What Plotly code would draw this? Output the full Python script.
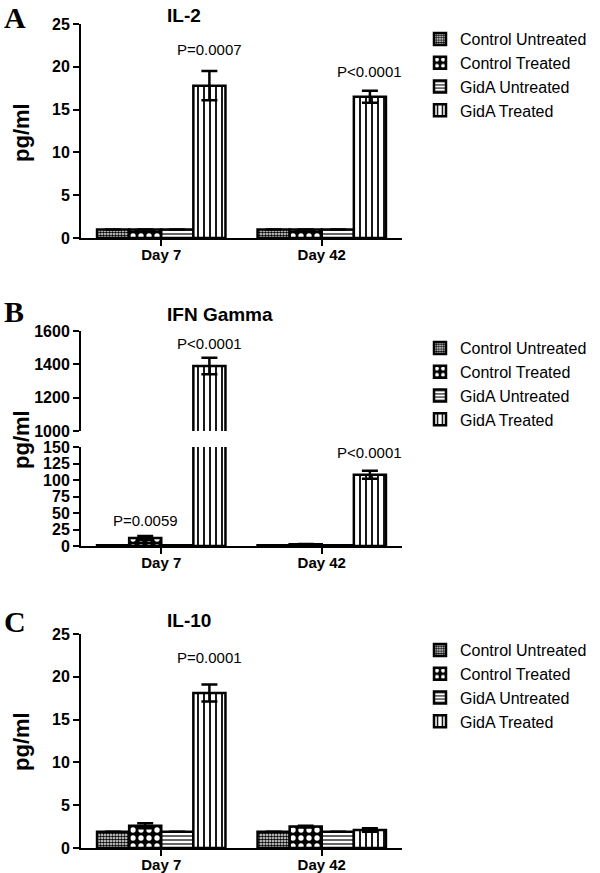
import plotly.graph_objects as go

W, H = 600, 873
days = ["Day 7", "Day 42"]
xpos = [0, 1]
series = ["Control Untreated", "Control Treated", "GidA Untreated", "GidA Treated"]

il2_vals = {"Control Untreated": [1.0, 1.0], "Control Treated": [1.0, 1.0],
            "GidA Untreated": [1.0, 1.0], "GidA Treated": [17.8, 16.5]}
il2_err = {"Control Untreated": [0, 0], "Control Treated": [0, 0],
           "GidA Untreated": [0, 0], "GidA Treated": [1.7, 0.7]}

ifn_vals = {"Control Untreated": [1.0, 1.0], "Control Treated": [12.0, 2.5],
            "GidA Untreated": [1.0, 1.0], "GidA Treated": [1390, 108]}
ifn_err = {"Control Untreated": [0, 0], "Control Treated": [3.0, 0.5],
           "GidA Untreated": [0, 0], "GidA Treated": [50, 6]}

il10_vals = {"Control Untreated": [1.9, 1.9], "Control Treated": [2.6, 2.5],
             "GidA Untreated": [1.9, 1.9], "GidA Treated": [18.1, 2.1]}
il10_err = {"Control Untreated": [0, 0], "Control Treated": [0.3, 0.1],
            "GidA Untreated": [0, 0], "GidA Treated": [1.0, 0.2]}

patterns = {
    "Control Untreated": dict(shape=".", size=3, solidity=0.6, fgcolor="black", bgcolor="white", fillmode="replace"),
    "Control Treated": dict(shape=".", size=8, solidity=0.35, fgcolor="white", bgcolor="black", fillmode="replace"),
    "GidA Untreated": dict(shape="-", size=4, solidity=0.3, fgcolor="black", bgcolor="white", fillmode="replace"),
    "GidA Treated": dict(shape="|", size=6, solidity=0.3, fgcolor="black", bgcolor="white", fillmode="replace"),
}

def py(px):
    return 1 - px / H

def px_(p):
    return p / W

fig = go.Figure()

panels = [
    ("x", "y", il2_vals, il2_err, "legend", True),
    ("x2", "y2", ifn_vals, ifn_err, "legend2", True),
    ("x3", "y3", ifn_vals, ifn_err, "legend2", False),
    ("x4", "y4", il10_vals, il10_err, "legend3", True),
]
for xa, ya, vals, errs, lg, sl in panels:
    for s in series:
        fig.add_trace(go.Bar(
            x=xpos, y=vals[s], name=s, xaxis=xa, yaxis=ya, legend=lg, showlegend=sl,
            marker=dict(color="white", pattern=patterns[s], line=dict(color="black", width=2.5)),
            error_y=dict(type="data", array=errs[s], visible=True, color="black", thickness=2.5, width=8),
            hoverinfo="skip",
        ))

tickfont = dict(family="Liberation Sans, Arial", size=16, color="black", weight="bold")
xdom = [px_(81), px_(402)]
common_y = dict(showline=True, linewidth=2, linecolor="black", ticks="outside", ticklen=6,
                tickwidth=2, tickcolor="black", tickfont=tickfont, showgrid=False, zeroline=False)
common_x = dict(range=[-0.5, 1.5], showline=True, linewidth=2, linecolor="black", ticks="outside",
                ticklen=6, tickwidth=2, tickcolor="black", tickvals=xpos, ticktext=days,
                tickfont=dict(tickfont, size=15), showgrid=False, zeroline=False)

fig.update_layout(
    width=W, height=H, margin=dict(l=0, r=0, t=0, b=0, autoexpand=False),
    plot_bgcolor="white", paper_bgcolor="white",
    barmode="group", bargap=0.2, bargroupgap=0,
    font=dict(family="Liberation Sans, Arial", color="black"),
    xaxis=dict(domain=xdom, anchor="y", **common_x),
    yaxis=dict(domain=[py(238), py(24)], anchor="x", range=[0, 25], dtick=5, **common_y),
    xaxis2=dict(domain=xdom, anchor="y2", **common_x),
    yaxis2=dict(domain=[py(546), py(447)], anchor="x2", range=[0, 150], dtick=25, **common_y),
    xaxis3=dict(domain=xdom, anchor="y3", matches="x2", range=[-0.5, 1.5], visible=False),
    yaxis3=dict(domain=[py(431), py(331)], anchor="x3", range=[1000, 1600], dtick=200, **common_y),
    xaxis4=dict(domain=xdom, anchor="y4", **common_x),
    yaxis4=dict(domain=[py(848), py(634)], anchor="x4", range=[0, 25], dtick=5, **common_y),
)
for xa in ["xaxis", "xaxis2", "xaxis4"]:
    try:
        fig.layout[xa].ticklabelstandoff = -4
    except Exception:
        pass

legfont = dict(family="Liberation Sans, Arial", size=16, color="black")
for name, top in [("legend", 22), ("legend2", 331), ("legend3", 633)]:
    fig.update_layout(**{name: dict(x=px_(420), y=py(top), xanchor="left", yanchor="top",
                                     font=legfont, bgcolor="rgba(0,0,0,0)", tracegroupgap=0,
                                     itemclick=False)})

ann = []
for letter, y in [("A", 17), ("B", 311), ("C", 621)]:
    ann.append(dict(text=letter, x=px_(2), y=py(y), xref="paper", yref="paper", xanchor="left",
                    yanchor="middle", showarrow=False,
                    font=dict(family="Liberation Serif, Times New Roman", size=30, weight="bold")))
for t, y in [("IL-2", 15), ("IFN Gamma", 314), ("IL-10", 620)]:
    ann.append(dict(text=t, x=px_(165), y=py(y), xref="paper", yref="paper", xanchor="left",
                    yanchor="middle", showarrow=False, font=dict(size=19, weight="bold")))
for y in [133, 440, 742]:
    ann.append(dict(text="pg/ml", x=px_(21), y=py(y), xref="paper", yref="paper", textangle=-90,
                    xanchor="center", yanchor="middle", showarrow=False, font=dict(size=22, weight="bold")))
pf = dict(size=15)
pvals = [
    ("P=0.0007", "x", "y", 0.3, 22.0),
    ("P<0.0001", "x", "y", 1.3, 19.4),
    ("P<0.0001", "x3", "y3", 0.3, 1528),
    ("P=0.0059", "x2", "y2", -0.1, 39),
    ("P<0.0001", "x2", "y2", 1.3, 142),
    ("P=0.0001", "x4", "y4", 0.3, 22.2),
]
for t, xr, yr, xv, yv in pvals:
    ann.append(dict(text=t, x=xv, y=yv, xref=xr, yref=yr, showarrow=False, font=pf,
                    xanchor="center", yanchor="middle"))
fig.update_layout(annotations=ann)

fig.write_html("out.html", config={"displayModeBar": False},
               post_script="document.body.style.margin='0px';document.body.style.overflow='hidden';")
